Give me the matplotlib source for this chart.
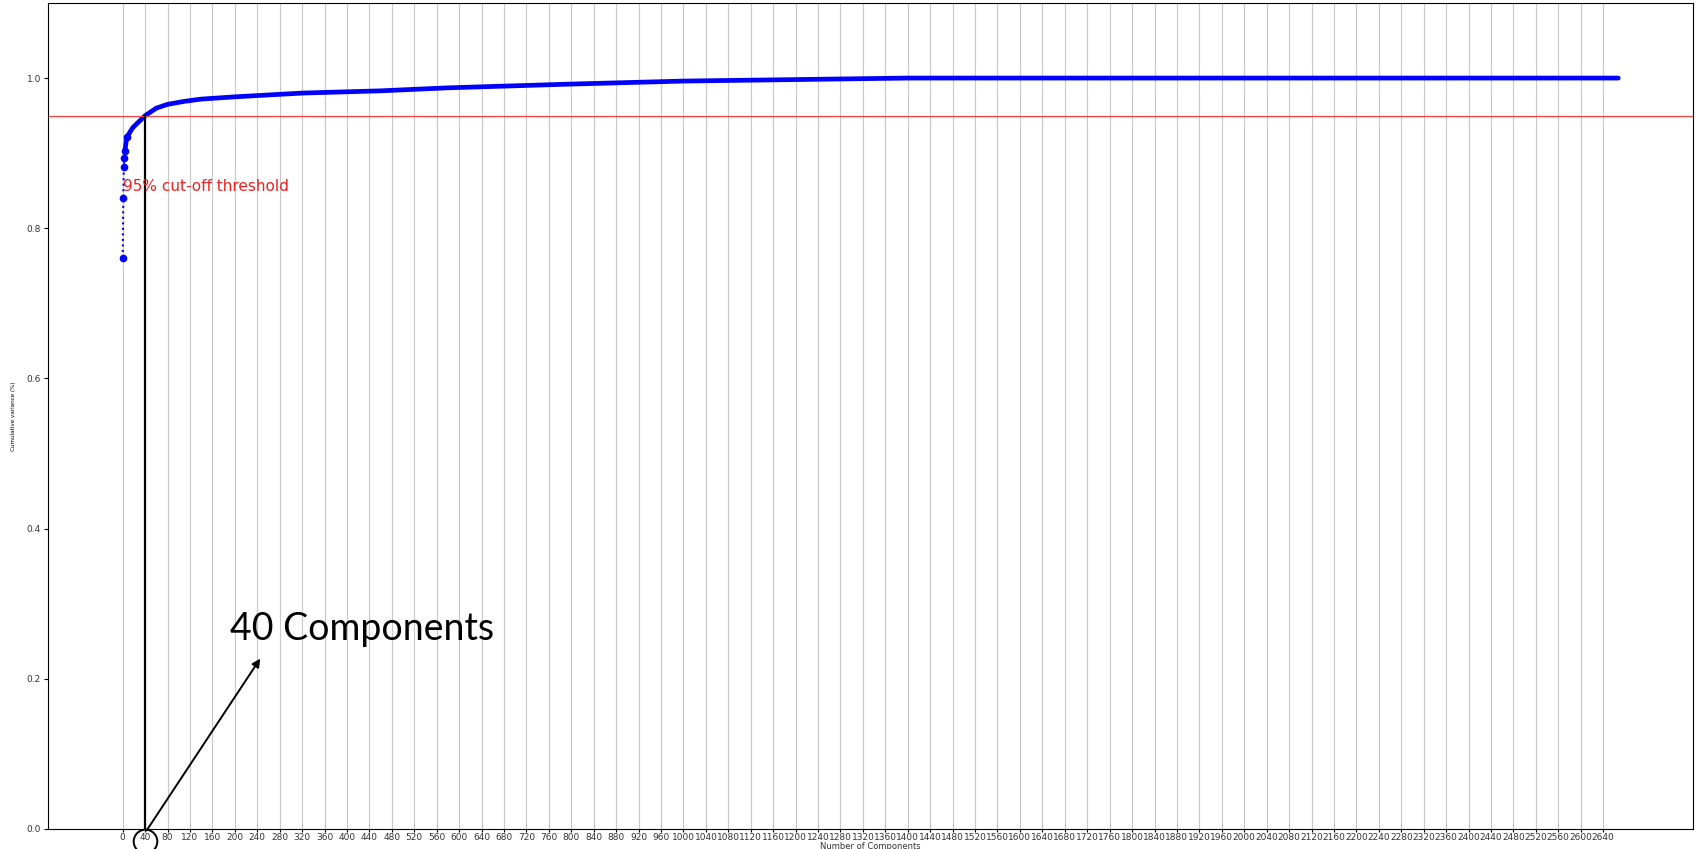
import matplotlib

matplotlib.use("Agg")
matplotlib.rcParams["font.family"] = ["DejaVu Sans"]

import numpy as np
import matplotlib.pyplot as plt
import matplotlib.transforms as mtransforms

# cumulative explained variance at a handful of component counts
components = [0, 1, 2, 3, 4, 7, 18, 40, 60, 80, 110, 140, 200, 320, 460, 580, 800, 1000, 1200, 1400, 2667]
cum_variance = [0.761, 0.840, 0.882, 0.894, 0.903, 0.921, 0.934, 0.950, 0.960, 0.965, 0.969,
                0.972, 0.975, 0.980, 0.983, 0.987, 0.992, 0.996, 0.998, 1.0, 1.0]
n_components = 2668
threshold = 0.95
chosen = 40
x_ticks = np.arange(0, n_components, 40)
y_ticks = [0.0, 0.2, 0.4, 0.6, 0.8, 1.0]

fig = plt.figure(figsize=(17, 8.49), dpi=100)
ax = fig.add_axes([0.0282, 0.0236, 0.9677, 0.9729])

# sparse head: individual markers joined by a dotted line
ax.plot(components[:6], cum_variance[:6], marker="o", ms=4.5, linestyle=":", lw=1.5, color="b")
# dense part: markers overlap into a solid band
ax.plot(components[4:], cum_variance[4:], color="b", lw=3.4, solid_capstyle="round")

ax.axhline(y=threshold, color="#ff4040", linestyle="-", lw=0.9)
ax.text(0.5, 0.85, "95% cut-off threshold", color="#ee2020", fontsize=11)

ax.set_xlim(-0.05 * (n_components - 1), 1.05 * (n_components - 1))
ax.set_ylim(0.0, 1.1)
ax.set_xticks(x_ticks)
ax.set_yticks(y_ticks)
ax.tick_params(axis="x", labelsize=6.5, length=2, pad=1, labelcolor="#333333")
ax.tick_params(axis="y", labelsize=6.5, length=3, pad=2, labelcolor="#333333")
ax.grid(axis="x", color="#c8c8c8", lw=0.8)
ax.set_axisbelow(True)

ax.set_xlabel("Number of Components", fontsize=6, labelpad=0, color="#333333")
ax.set_ylabel("Cumulative variance (%)", fontsize=4.5, labelpad=8, fontstretch="condensed")

# hand-drawn style annotation of the chosen component count
ax.plot([chosen, chosen], [0, threshold], color="black", lw=1.6)
ax.annotate("", xy=(248, 0.23), xytext=(chosen, -0.005),
            arrowprops=dict(arrowstyle="-|>", color="black", lw=1.4, mutation_scale=12),
            annotation_clip=False)
ax.text(192, 0.251, "40 Components", fontsize=27, family=["Lato", "DejaVu Sans"], color="black")

below = mtransforms.offset_copy(ax.transData, fig=fig, x=0, y=-12, units="dots")
ax.plot(chosen, 0, marker="o", ms=17, mfc="none", mec="black", mew=1.4,
        transform=below, clip_on=False)

fig.savefig("out.png", dpi=100)
